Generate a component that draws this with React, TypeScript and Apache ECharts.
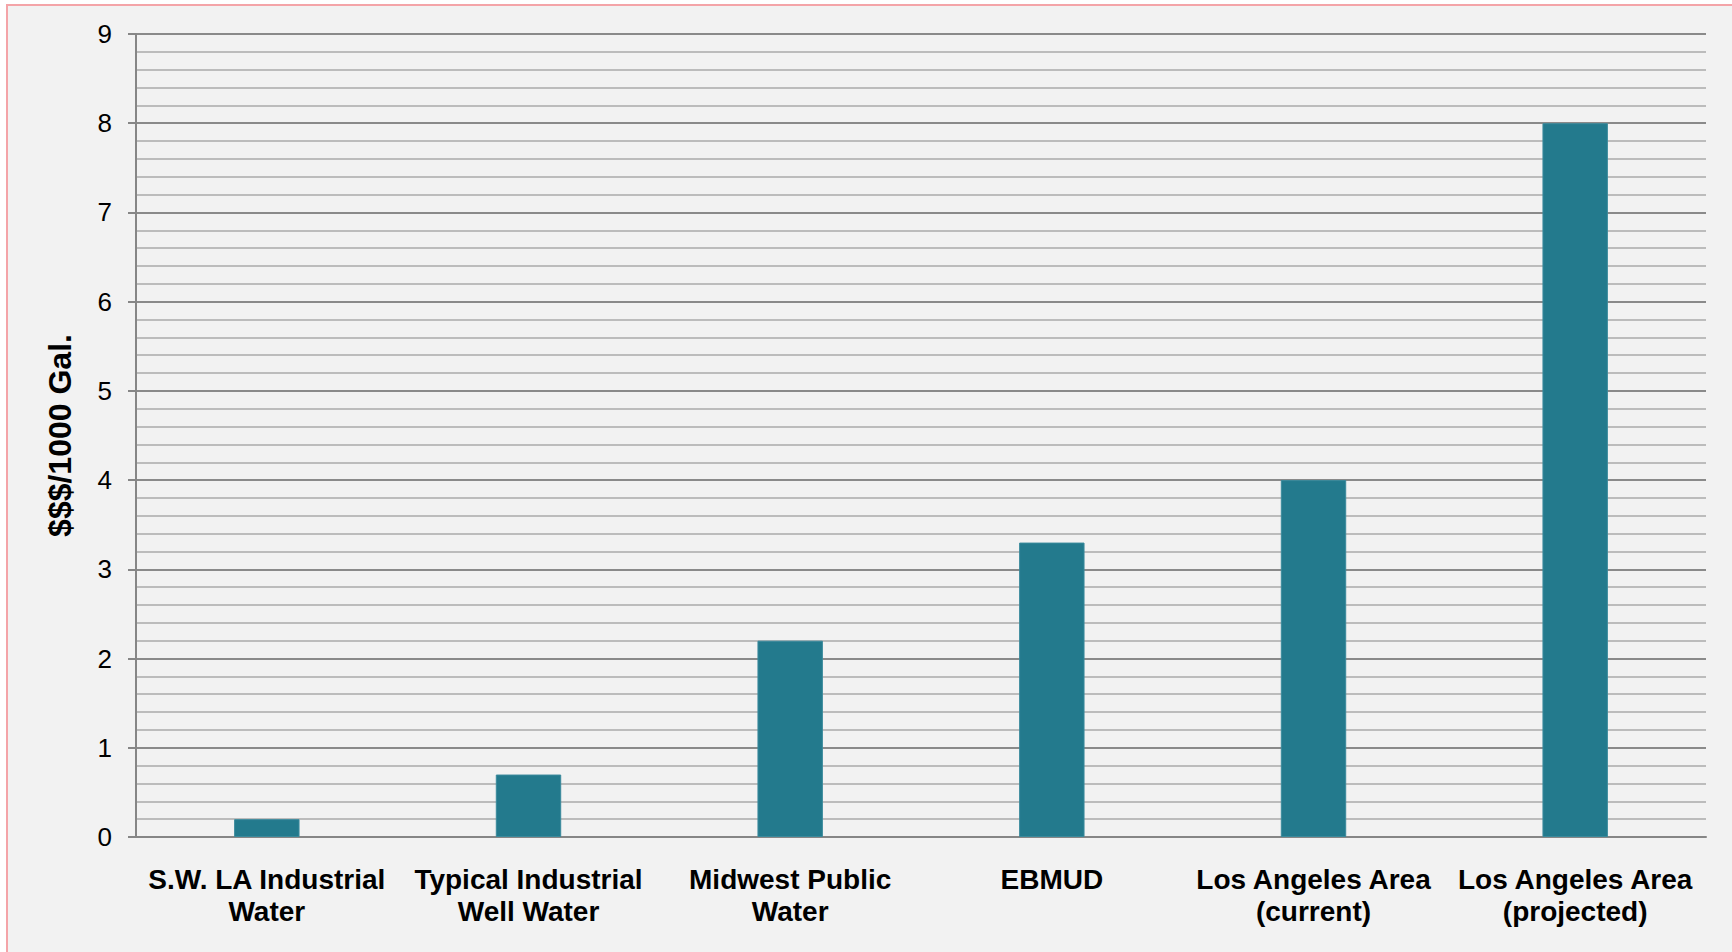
import React, { useEffect, useRef } from "react";
import * as echarts from "echarts";

// Water cost by source, in dollars per 1000 gallons
const categories: string[] = [
  "S.W. LA Industrial\nWater",
  "Typical Industrial\nWell Water",
  "Midwest Public\nWater",
  "EBMUD",
  "Los Angeles Area\n(current)",
  "Los Angeles Area\n(projected)",
];
const costPer1000Gal: number[] = [0.2, 0.7, 2.2, 3.3, 4.0, 8.0];
const yAxisTitle = "$$$/1000 Gal.";

const FONT = "'Liberation Sans', Arial, Helvetica, sans-serif";

export default function App() {
  const ref = useRef<HTMLDivElement>(null);

  useEffect(() => {
    if (!ref.current) return;
    const chart = echarts.init(ref.current, undefined, { renderer: "svg" });
    chart.setOption({
      animation: false,
      backgroundColor: "transparent",
      grid: { left: 128, top: 28, right: 26, bottom: 115, containLabel: false },
      xAxis: {
        type: "category",
        data: categories,
        axisLine: { show: true, lineStyle: { color: "#868686", width: 2 } },
        axisTick: { show: false },
        axisLabel: {
          interval: 0,
          margin: 26,
          color: "#000",
          fontFamily: FONT,
          fontWeight: "bold",
          fontSize: 28,
          lineHeight: 32,
        },
      },
      yAxis: {
        type: "value",
        min: 0,
        max: 9,
        interval: 1,
        name: yAxisTitle,
        nameLocation: "middle",
        nameGap: 60,
        nameRotate: 90,
        nameTextStyle: {
          color: "#000",
          fontFamily: FONT,
          fontWeight: "bold",
          fontSize: 32,
        },
        axisLine: { show: true, lineStyle: { color: "#868686", width: 2 } },
        axisTick: { show: true, length: 8, lineStyle: { color: "#868686", width: 2 } },
        axisLabel: {
          margin: 24,
          color: "#000",
          fontFamily: FONT,
          fontSize: 26,
        },
        splitLine: { show: true, lineStyle: { color: "#8a8a8a", width: 2 } },
        minorTick: { show: false, splitNumber: 5 },
        minorSplitLine: { show: true, lineStyle: { color: "#bcbcbc", width: 2 } },
      },
      series: [
        {
          type: "bar",
          data: costPer1000Gal,
          barWidth: "25%",
          itemStyle: { color: "#237A8D", borderColor: "#3a8a9c", borderWidth: 1 },
        },
      ],
    });
    return () => chart.dispose();
  }, []);

  return (
    <div
      style={{
        position: "fixed",
        left: 0,
        top: 0,
        width: 1732,
        height: 952,
        background: "#fff",
        overflow: "hidden",
      }}
    >
      <div
        style={{
          position: "absolute",
          left: 6,
          top: 4,
          width: 1740,
          height: 960,
          boxSizing: "border-box",
          borderTop: "2px solid #F4A4A8",
          borderLeft: "2px solid #F4A4A8",
          background: "#F2F2F2",
        }}
      >
        <div ref={ref} style={{ position: "absolute", left: 0, top: 0, width: 1724, height: 946 }} />
      </div>
    </div>
  );
}
